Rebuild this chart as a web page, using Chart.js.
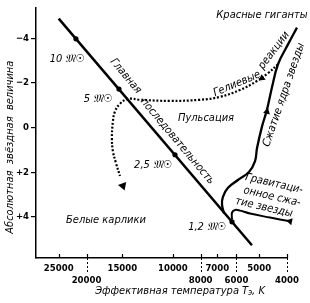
<!DOCTYPE html>
<html><head><meta charset="utf-8">
<script src="https://cdn.jsdelivr.net/npm/chart.js@4.4.1/dist/chart.umd.min.js"></script>
<style>html,body{margin:0;padding:0;background:#fff}canvas{display:block}</style>
</head><body>
<canvas id="c" width="310" height="303"></canvas>
<script>
// ---- data (temperature K, absolute magnitude) ----
const xTickValues = [25000, 20000, 15000, 10000, 8000, 7000, 6000, 5000, 4000];
const xLowerRow = [20000, 8000, 6000, 4000];
const yTickValues = [-4, -2, 0, 2, 4];

const mainSeqT = [25000, 5300];
const mainSeqM = [-4.87, 5.27];

const massNames = ['10', '5', '2,5', '1,2'];
const massT = [21770, 15410, 9830, 6220];
const massM = [-3.97, -1.72, 1.22, 4.22];

const giantT = [6630, 6740, 6690, 6425, 5930, 5428, 5170, 5090, 4890, 4697, 4510, 4300, 3968, 3692];
const giantM = [3.85, 3.45, 3.10, 2.70, 2.35, 1.99, 1.50, 0.93, -0.04, -0.80, -1.81, -2.83, -3.72, -4.47];

const gravT = [3603, 3905, 4585, 5384, 5834, 6072, 6220, 6220];
const gravM = [4.29, 4.20, 4.03, 3.85, 3.72, 3.69, 3.81, 4.12];

const heliumT = [4300, 4660, 5090, 5834, 6850, 8040, 10230, 13020, 14340, 15290, 15920, 16180, 16310, 16180, 15790, 15290];
const heliumM = [-2.83, -2.43, -2.08, -1.68, -1.37, -1.24, -1.19, -1.24, -1.28, -1.06, -0.71, -0.27, 0.49, 1.06, 1.59, 2.17];

const arrowT = [14930, 4890, 4697, 3905];
const arrowM = [2.61, -2.21, -0.71, 4.20];
const arrowDir = [160, 234, 14, 281];

const xTitle = 'Эффективная температура T';
const xTitleSub = 'э';
const xTitleEnd = ', K';
const yTitle = 'Абсолютная  звёздная  величина';

// ---- layout / annotation config ----
const FAM = '"DejaVu Sans Condensed","DejaVu Sans",sans-serif';
const notes = [
  {text: 'Красные гиганты', t: 4890, m: -5.04, rot: 0},
  {text: 'Главная', t: 14600, m: -2.30, rot: 50},
  {text: 'последовательность', t: 9650, m: 0.62, rot: 50},
  {text: 'Гелиевые', t: 5975, m: -1.95, rot: -23},
  {text: 'реакции', t: 4440, m: -3.45, rot: -53},
  {text: 'Пульсация', t: 7665, m: -0.44, rot: 0},
  {text: 'Сжатие ядра звезды', t: 4100, m: -1.46, rot: -71},
  {text: 'Гравитаци-', t: 4440, m: 2.52, rot: 13},
  {text: 'онное сжа-', t: 4510, m: 3.10, rot: 13},
  {text: 'тие звезды', t: 4812, m: 3.58, rot: 13},
  {text: 'Белые карлики', t: 17110, m: 4.16, rot: 0}
];
const massLabelPos = [[23400, -3.05], [18240, -1.28], [11730, 1.68], [7600, 4.47]];

const pts = (T, M) => T.map((t, i) => ({x: t, y: M[i]}));

function txt(ctx, s, x, y, rot, font, align) {
  ctx.save();
  ctx.translate(x, y);
  ctx.rotate(rot * Math.PI / 180);
  ctx.font = font;
  ctx.textAlign = align || 'center';
  ctx.textBaseline = 'middle';
  ctx.fillStyle = '#000';
  ctx.fillText(s, 0, 0);
  ctx.restore();
}

const annot = {
  id: 'annot',
  afterDraw(chart) {
    const ctx = chart.ctx, xs = chart.scales.x, ys = chart.scales.y;
    const bottom = chart.chartArea.bottom;
    // x ticks: inward marks + dashed drops for lower row
    ctx.save();
    ctx.strokeStyle = '#000';
    ctx.lineWidth = 1.2;
    xTickValues.forEach(v => {
      const px = Math.round(xs.getPixelForValue(v)) + 0.5;
      ctx.setLineDash([]);
      ctx.beginPath(); ctx.moveTo(px, bottom); ctx.lineTo(px, bottom - 4); ctx.stroke();
      if (xLowerRow.includes(v)) {
        ctx.setLineDash([2, 2]);
        ctx.lineWidth = 1;
        ctx.beginPath(); ctx.moveTo(px, bottom); ctx.lineTo(px, bottom + 16); ctx.stroke();
        ctx.lineWidth = 1.2;
      }
    });
    ctx.restore();
    // notes
    const f = 'italic 11px ' + FAM;
    notes.forEach(n => txt(ctx, n.text, xs.getPixelForValue(n.t), ys.getPixelForValue(n.m), n.rot, f));
    massNames.forEach((nm, i) => {
      const [t, m] = massLabelPos[i];
      txt(ctx, nm + ' 𝔐☉', xs.getPixelForValue(t), ys.getPixelForValue(m), 0, f);
    });
    // axis titles
    txt(ctx, yTitle, 10, ys.getPixelForValue(0.88), -90, f);
    ctx.save();
    ctx.font = f;
    const w1 = ctx.measureText(xTitle).width;
    ctx.font = 'italic 8px ' + FAM;
    const w2 = ctx.measureText(xTitleSub).width;
    ctx.font = f;
    const w3 = ctx.measureText(xTitleEnd).width;
    ctx.restore();
    const cx = xs.getPixelForValue(9440), ty = bottom + 33;
    let x0 = cx - (w1 + w2 + w3) / 2;
    txt(ctx, xTitle, x0, ty, 0, f, 'left');
    txt(ctx, xTitleSub, x0 + w1, ty + 2, 0, 'italic 8px ' + FAM, 'left');
    txt(ctx, xTitleEnd, x0 + w1 + w2, ty, 0, f, 'left');
  }
};

const tickFont = {family: FAM, size: 9.5, weight: 'bold', lineHeight: 1.25};

new Chart(document.getElementById('c'), {
  type: 'scatter',
  data: {
    datasets: [
      {data: pts(mainSeqT, mainSeqM), showLine: true, borderColor: '#000', borderWidth: 2.5, pointRadius: 0, clip: false},
      {data: pts(giantT, giantM), showLine: true, borderColor: '#000', borderWidth: 2.3, pointRadius: 0, tension: 0.4, clip: false},
      {data: pts(gravT, gravM), showLine: true, borderColor: '#000', borderWidth: 2, pointRadius: 0, tension: 0.4, clip: false},
      {data: pts(heliumT, heliumM), showLine: true, borderColor: '#000', borderWidth: 2.2, borderDash: [2, 1.8], pointRadius: 0, tension: 0.4, clip: false},
      {data: pts(massT, massM), showLine: false, pointRadius: 2.6, pointBackgroundColor: '#000', pointBorderWidth: 0, clip: false},
      {data: pts(arrowT, arrowM), showLine: false, pointStyle: 'triangle', pointRotation: arrowDir,
       pointRadius: [5, 4, 4, 4], pointBackgroundColor: '#000', pointBorderColor: '#000', pointBorderWidth: 0, clip: false}
    ]
  },
  options: {
    responsive: false,
    animation: false,
    devicePixelRatio: 1,
    events: [],
    layout: {padding: {left: 0, right: 23, top: 5, bottom: 0}},
    plugins: {legend: {display: false}, tooltip: {enabled: false}},
    scales: {
      x: {
        type: 'logarithmic', min: 4000, max: 30000, reverse: true,
        afterBuildTicks: s => { s.ticks = xTickValues.map(v => ({value: v})); },
        afterFit: s => { s.height = 45; },
        grid: {display: false, drawTicks: false},
        border: {display: true, color: '#000', width: 1.5},
        ticks: {
          autoSkip: false, maxRotation: 0, minRotation: 0, padding: 5, color: '#000', font: tickFont,
          callback: v => xLowerRow.includes(v) ? ['', String(v)] : String(v)
        },
        title: {display: false}
      },
      y: {
        type: 'linear', min: -5.35, max: 5.84, reverse: true,
        afterBuildTicks: s => { s.ticks = yTickValues.map(v => ({value: v})); },
        afterFit: s => { s.width = 36; },
        grid: {display: true, drawOnChartArea: false, drawTicks: true, tickLength: 5, color: '#000', lineWidth: 1.2},
        border: {display: true, color: '#000', width: 1.5},
        ticks: {
          padding: 2, color: '#000', font: tickFont,
          callback: v => v < 0 ? '−' + Math.abs(v) : (v > 0 ? '+' + v : '0')
        },
        title: {display: false}
      }
    }
  },
  plugins: [annot]
});
</script>
</body></html>
